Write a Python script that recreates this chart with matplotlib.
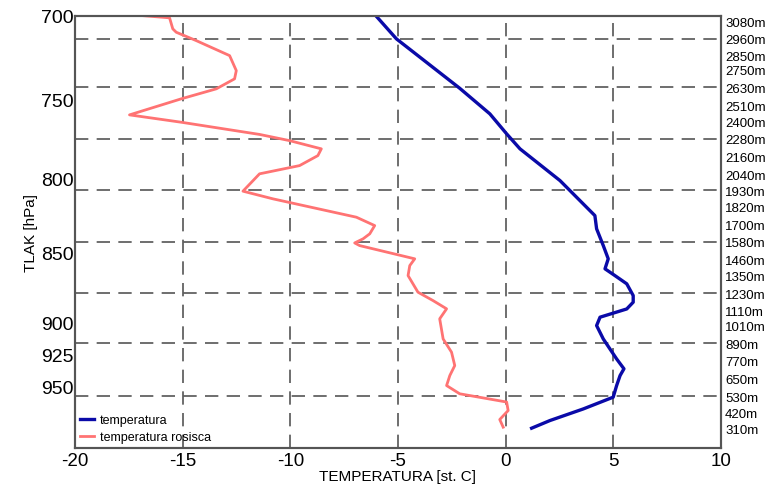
import matplotlib
matplotlib.use("Agg")
from matplotlib import pyplot as plt

plt.rcParams['font.family'] = ['Liberation Sans', 'DejaVu Sans']

# temperature profile (deg C) vs height (m)
temp_alt = [3118, 2960, 2624, 2450, 2314, 2212, 1996, 1758, 1668, 1554, 1464, 1396,
            1350, 1294, 1214, 1169, 1123, 1067, 1010, 919, 783, 716, 670, 602, 523,
            443, 364, 312]
temp = [-6.03, -5.07, -2.13, -0.73, 0.05, 0.67, 2.53, 4.15, 4.23, 4.54, 4.77, 4.62,
        5.08, 5.63, 5.93, 5.93, 5.63, 4.39, 4.23, 4.54, 5.16, 5.50, 5.32, 5.16, 5.00,
        3.61, 2.06, 1.21]

# dew point profile
dew_alt = [3118, 3103, 3028, 3005, 2948, 2846, 2744, 2688, 2620, 2552, 2443, 2393,
           2310, 2268, 2212, 2166, 2098, 2042, 1924, 1872, 1747, 1690, 1634, 1600,
           1572, 1554, 1464, 1418, 1350, 1237, 1180, 1124, 1056, 919, 829, 738, 670,
           602, 546, 490, 432, 371, 319]
dew = [-16.86, -15.61, -15.46, -15.30, -14.37, -12.82, -12.51, -12.59, -13.44, -15.07,
       -17.47, -15.07, -11.43, -10.04, -8.56, -8.72, -9.57, -11.43, -12.20, -10.81,
       -6.93, -6.08, -6.31, -6.62, -7.01, -6.78, -4.22, -4.45, -4.53, -4.07, -3.37,
       -2.74, -3.06, -2.90, -2.51, -2.36, -2.59, -2.74, -2.13, 0.05, 0.12, -0.27, -0.11]

# pressure labels (hPa) and the height where they sit
press_labels = ['700', '750', '800', '850', '900', '925', '950']
press_alt = [3118, 2545, 2008, 1509, 1033, 811, 598]

# height labels on the right side
height_vals = [3080, 2960, 2850, 2750, 2630, 2510, 2400, 2280, 2160, 2040, 1930, 1820,
               1700, 1580, 1460, 1350, 1230, 1110, 1010, 890, 770, 650, 530, 420, 310]
grid_alt = [2960, 2630, 2280, 1930, 1580, 1230, 890, 530]

fig = plt.figure(figsize=(7.66, 4.89), dpi=100)
ax = fig.add_axes([0.098, 0.082, 0.843, 0.884])

ax.plot(temp, temp_alt, color='#0a0aa8', lw=2.4, label='temperatura', zorder=3)
ax.plot(dew, dew_alt, color='#ff7373', lw=2.0, label='temperatura rosisca', zorder=3)

ax.set_xlim(-20, 10)
ax.set_ylim(178, 3118)

gridstyle = dict(color='#555555', lw=1.2, dashes=(8, 5), zorder=1)
for x in [-15, -10, -5, 0, 5]:
    ax.axvline(x, **gridstyle)
for h in grid_alt:
    ax.axhline(h, **gridstyle)

ax.set_xticks([-20, -15, -10, -5, 0, 5, 10])
ax.set_xticklabels(['-20', '-15', '-10', '-5', '0', '5', '10'])
ax.set_yticks(press_alt)
ax.set_yticklabels(press_labels)
ax.tick_params(axis='x', length=0, labelsize=13.5, pad=3)
ax.tick_params(axis='y', length=0, labelsize=14, pad=1)
ax.set_xlabel('TEMPERATURA [st. C]', fontsize=11, labelpad=0)
ax.set_ylabel('TLAK [hPa]', fontsize=11, labelpad=2)

ax2 = ax.twinx()
ax2.set_ylim(ax.get_ylim())
ax2.set_yticks(height_vals)
ax2.set_yticklabels([f'{h}m' for h in height_vals])
ax2.tick_params(axis='y', length=0, labelsize=9.5, pad=3)

for a in (ax, ax2):
    for s in a.spines.values():
        s.set_color('#555555')
        s.set_linewidth(1.5)

ax.legend(loc='lower left', frameon=False, fontsize=9, handlelength=1.1,
          handletextpad=0.5, labelspacing=0.4, borderaxespad=0.0)

fig.savefig('out.png', dpi=100)
